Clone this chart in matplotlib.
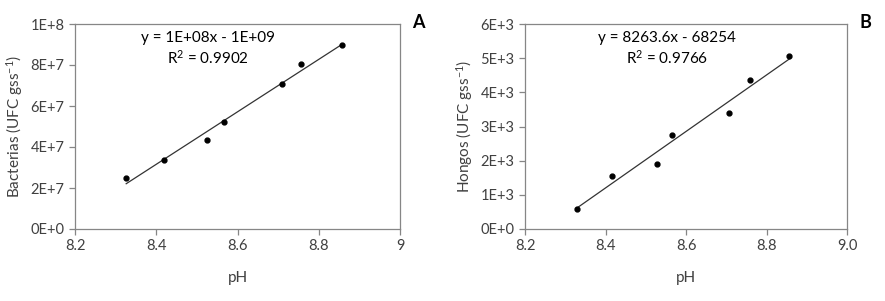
import matplotlib.pyplot as plt
import numpy as np

plt.rcParams['font.family'] = ['Lato', 'DejaVu Sans']
plt.rcParams['mathtext.default'] = 'regular'

ph_a = [8.326, 8.419, 8.526, 8.567, 8.710, 8.756, 8.858]
bacterias = [2.49e7, 3.37e7, 4.34e7, 5.22e7, 7.07e7, 8.05e7, 8.98e7]

ph_b = [8.328, 8.416, 8.527, 8.566, 8.708, 8.758, 8.857]
hongos = [595, 1561, 1893, 2761, 3405, 4361, 5073]

eq_a = ["y = 1E+08x - 1E+09", "R$^2$ = 0.9902"]
eq_b = ["y = 8263.6x - 68254", "R$^2$ = 0.9766"]

text_col = "#404040"
spine_col = "#868686"

fig = plt.figure(figsize=(8.85, 3.01), dpi=100)
W, H = 885, 301


def make_panel(rect, x, y, yticks, yticklabels, xticklabels, ylabel, eq, eq_x, letter, letter_x):
    ax = fig.add_axes([rect[0] / W, 1 - rect[3] / H, (rect[2] - rect[0]) / W, (rect[3] - rect[1]) / H])
    ax.plot(x, y, "o", color="black", markersize=3.5, zorder=3)
    coef = np.polyfit(x, y, 1)
    xs = np.array([min(x), max(x)])
    ax.plot(xs, np.polyval(coef, xs), color="#333333", lw=0.9)
    ax.set_xlim(8.2, 9.0)
    ax.set_ylim(yticks[0], yticks[-1])
    ax.set_xticks([8.2, 8.4, 8.6, 8.8, 9.0])
    ax.set_xticklabels(xticklabels)
    ax.set_yticks(yticks)
    ax.set_yticklabels(yticklabels)
    for s in ax.spines.values():
        s.set_color(spine_col)
        s.set_linewidth(0.9)
    ax.tick_params(colors=spine_col, labelcolor=text_col, labelsize=10.5, length=4, width=0.9, direction="out")
    ax.set_xlabel("pH", color=text_col, fontsize=11, labelpad=13)
    ax.set_ylabel(ylabel, color=text_col, fontsize=11, labelpad=4)
    ax.text(eq_x, 0.93, eq[0], transform=ax.transAxes, ha="center", va="center", fontsize=11, color="black")
    ax.text(eq_x, 0.835, eq[1], transform=ax.transAxes, ha="center", va="center", fontsize=11, color="black")
    fig.text(letter_x / W, 1 - 23 / H, letter, ha="center", va="center", fontsize=13, fontweight="bold")
    return ax


make_panel((75, 24, 400, 229), ph_a, bacterias,
           [0, 2e7, 4e7, 6e7, 8e7, 1e8],
           ["0E+0", "2E+7", "4E+7", "6E+7", "8E+7", "1E+8"],
           ["8.2", "8.4", "8.6", "8.8", "9"],
           "Bacterias (UFC gss$^{-1}$)", eq_a, 0.41, "A", 418)

make_panel((525, 24, 847, 229), ph_b, hongos,
           [0, 1000, 2000, 3000, 4000, 5000, 6000],
           ["0E+0", "1E+3", "2E+3", "3E+3", "4E+3", "5E+3", "6E+3"],
           ["8.2", "8.4", "8.6", "8.8", "9.0"],
           "Hongos (UFC gss$^{-1}$)", eq_b, 0.44, "B", 865)

fig.savefig("out.png", dpi=100)
